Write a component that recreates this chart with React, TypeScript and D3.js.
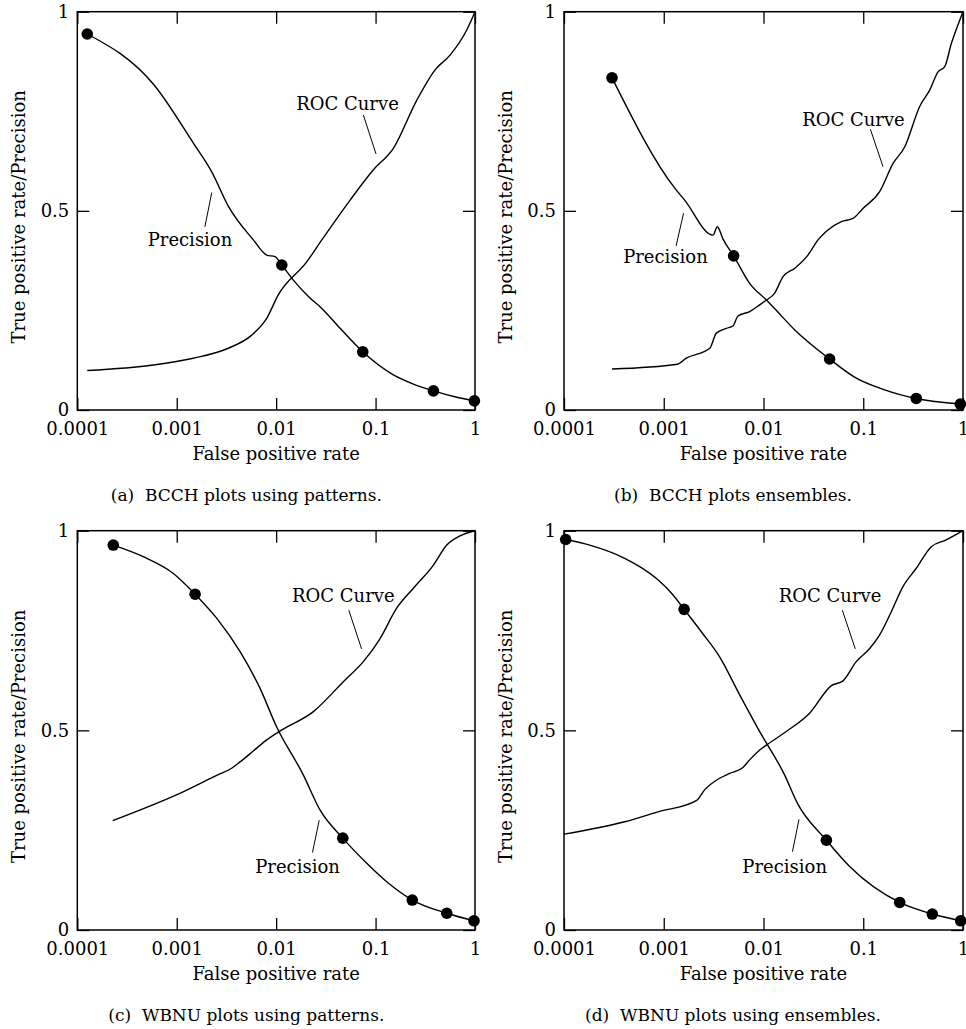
import React, { useEffect, useRef } from "react";
import * as d3 from "d3";

type Pt = [number, number];

// axis ticks
const xTicks = [0.0001, 0.001, 0.01, 0.1, 1];
const xTickLabels = ["0.0001", "0.001", "0.01", "0.1", "1"];
const yTicks = [0, 0.5, 1];
const yTickLabels = ["0", "0.5", "1"];

// (a) BCCH patterns  [false positive rate, value]
const precisionA: Pt[] = [
  [0.000126, 0.944], [0.000592, 0.816], [0.00147, 0.67], [0.00225, 0.598], [0.0033, 0.512],
  [0.0059, 0.427], [0.00803, 0.389], [0.00975, 0.385], [0.0114, 0.364], [0.0149, 0.326],
  [0.0211, 0.285], [0.0288, 0.255], [0.044, 0.205], [0.0743, 0.146], [0.151, 0.088],
  [0.24, 0.065], [0.382, 0.048], [0.656, 0.032], [0.986, 0.023],
];
const rocA: Pt[] = [
  [0.000126, 0.099], [0.000582, 0.113], [0.00147, 0.13], [0.0033, 0.155], [0.00568, 0.188],
  [0.00803, 0.23], [0.0105, 0.289], [0.0203, 0.372], [0.0288, 0.427], [0.0555, 0.527],
  [0.0951, 0.603], [0.151, 0.657], [0.26, 0.778], [0.397, 0.854], [0.561, 0.891],
  [0.826, 0.954], [1, 1],
];
const dotsA: Pt[] = [[0.000126, 0.944], [0.0114, 0.364], [0.0743, 0.146], [0.382, 0.048], [0.986, 0.023]];

// (b) BCCH ensembles
const precisionB: Pt[] = [
  [0.000303, 0.834], [0.00129, 0.557], [0.00162, 0.527], [0.00312, 0.439], [0.00344, 0.46],
  [0.00393, 0.429], [0.00502, 0.387], [0.00726, 0.318], [0.0107, 0.276], [0.0129, 0.255],
  [0.0206, 0.201], [0.046, 0.128], [0.0851, 0.08], [0.158, 0.052], [0.34, 0.029], [0.94, 0.015],
];
const rocB: Pt[] = [
  [0.000303, 0.103], [0.00137, 0.115], [0.00168, 0.13], [0.00289, 0.155], [0.00337, 0.193],
  [0.00424, 0.205], [0.00494, 0.211], [0.00555, 0.236], [0.00726, 0.247], [0.00916, 0.264],
  [0.0107, 0.276], [0.0129, 0.293], [0.0157, 0.335], [0.0206, 0.356], [0.0279, 0.389],
  [0.0352, 0.427], [0.0427, 0.449], [0.0603, 0.473], [0.0789, 0.481], [0.0993, 0.506],
  [0.146, 0.548], [0.199, 0.619], [0.261, 0.661], [0.368, 0.762], [0.463, 0.803],
  [0.562, 0.849], [0.656, 0.862], [0.764, 0.92], [0.891, 0.967], [1, 1],
];
const dotsB: Pt[] = [[0.000303, 0.834], [0.00502, 0.387], [0.046, 0.128], [0.34, 0.029], [0.94, 0.015]];

// (c) WBNU patterns
const precisionC: Pt[] = [
  [0.00023, 0.964], [0.000461, 0.935], [0.000925, 0.893], [0.00153, 0.841], [0.00252, 0.781],
  [0.00434, 0.697], [0.00689, 0.605], [0.0101, 0.509], [0.0188, 0.388], [0.0277, 0.3],
  [0.0468, 0.23], [0.0815, 0.167], [0.135, 0.117], [0.234, 0.075], [0.52, 0.042], [0.977, 0.023],
];
const rocC: Pt[] = [
  [0.000227, 0.274], [0.00116, 0.346], [0.00252, 0.387], [0.00357, 0.405], [0.00434, 0.421],
  [0.006, 0.45], [0.00803, 0.476], [0.0114, 0.501], [0.0237, 0.547], [0.0474, 0.622], [0.0753, 0.672],
  [0.111, 0.73], [0.163, 0.806], [0.24, 0.856], [0.382, 0.914], [0.52, 0.964], [0.708, 0.987], [1, 1],
];
const dotsC: Pt[] = [
  [0.00023, 0.964], [0.00153, 0.841], [0.0468, 0.23], [0.234, 0.075], [0.52, 0.042], [0.977, 0.023],
];

// (d) WBNU ensembles
const precisionD: Pt[] = [
  [0.000104, 0.978], [0.000181, 0.964], [0.000406, 0.931], [0.000574, 0.91], [0.000875, 0.877],
  [0.00124, 0.839], [0.0016, 0.803], [0.00238, 0.747], [0.00363, 0.684], [0.00577, 0.589],
  [0.00916, 0.497], [0.0163, 0.388], [0.0219, 0.317], [0.0427, 0.225], [0.0731, 0.159],
  [0.232, 0.069], [0.492, 0.04], [0.948, 0.023],
];
const rocD: Pt[] = [
  [0.0001, 0.24], [0.000406, 0.271], [0.000875, 0.296], [0.00212, 0.324], [0.00257, 0.351],
  [0.00363, 0.38], [0.00458, 0.392], [0.00622, 0.407], [0.00726, 0.426], [0.00916, 0.451],
  [0.0107, 0.463], [0.0169, 0.497], [0.029, 0.543], [0.0479, 0.612], [0.0627, 0.624],
  [0.0851, 0.672], [0.116, 0.705], [0.146, 0.739], [0.191, 0.797], [0.25, 0.86],
  [0.34, 0.906], [0.481, 0.96], [0.679, 0.977], [1, 1],
];
const dotsD: Pt[] = [
  [0.000104, 0.978], [0.0016, 0.803], [0.0427, 0.225], [0.232, 0.069], [0.492, 0.04], [0.948, 0.023],
];

const captions = [
  "(a)\u00a0 BCCH plots using patterns.",
  "(b)\u00a0 BCCH plots ensembles.",
  "(c)\u00a0 WBNU plots using patterns.",
  "(d)\u00a0 WBNU plots using ensembles.",
];

const W = 966;
const H = 1029;
const FONT = "DejaVu Serif";
const FS = 18;

// panel boxes + annotation anchors (in data coords)
const panels = [
  {
    left: 77.3, right: 475, top: 11.7, bottom: 410,
    precision: precisionA, roc: rocA, dots: dotsA, caption: captions[0],
    rocText: [0.0522, 0.753], rocLine: [[0.0753, 0.741], [0.101, 0.643]],
    precText: [0.00136, 0.412], precLine: [[0.00225, 0.546], [0.00192, 0.46]],
  },
  {
    left: 564, right: 963, top: 11.7, bottom: 410,
    precision: precisionB, roc: rocB, dots: dotsB, caption: captions[1],
    rocText: [0.0798, 0.713], rocLine: [[0.1178, 0.705], [0.1578, 0.611]],
    precText: [0.00104, 0.368], precLine: [[0.00158, 0.494], [0.00133, 0.412]],
  },
  {
    left: 77.3, right: 475, top: 530.7, bottom: 930,
    precision: precisionC, roc: rocC, dots: dotsC, caption: captions[2],
    rocText: [0.0474, 0.821], rocLine: [[0.0538, 0.801], [0.0723, 0.704]],
    precText: [0.0164, 0.144], precLine: [[0.0271, 0.275], [0.0232, 0.194]],
  },
  {
    left: 564, right: 963, top: 530.7, bottom: 930,
    precision: precisionD, roc: rocD, dots: dotsD, caption: captions[3],
    rocText: [0.0465, 0.821], rocLine: [[0.0617, 0.801], [0.0832, 0.704]],
    precText: [0.0163, 0.144], precLine: [[0.0227, 0.277], [0.0195, 0.196]],
  },
];

const App = () => {
  const ref = useRef<SVGSVGElement>(null);

  useEffect(() => {
    const svg = d3.select(ref.current);
    svg.selectAll("*").remove();

    panels.forEach((p) => {
      const x = d3.scaleLog().domain([0.0001, 1]).range([p.left, p.right]);
      const y = d3.scaleLinear().domain([0, 1]).range([p.bottom, p.top]);
      const g = svg.append("g");

      // axes (ticks pointing inward)
      const bottom = g.append("g").attr("transform", `translate(0,${p.bottom})`)
        .call(d3.axisBottom(x).tickValues(xTicks).tickSizeInner(-12).tickSizeOuter(0)
          .tickPadding(12).tickFormat((_d, i) => xTickLabels[i]));
      const top = g.append("g").attr("transform", `translate(0,${p.top})`)
        .call(d3.axisTop(x).tickValues(xTicks).tickSizeInner(-12).tickSizeOuter(0).tickFormat(() => ""));
      const left = g.append("g").attr("transform", `translate(${p.left},0)`)
        .call(d3.axisLeft(y).tickValues(yTicks).tickSizeInner(-12).tickSizeOuter(0)
          .tickPadding(8).tickFormat((_d, i) => yTickLabels[i]));
      const right = g.append("g").attr("transform", `translate(${p.right},0)`)
        .call(d3.axisRight(y).tickValues(yTicks).tickSizeInner(-12).tickSizeOuter(0).tickFormat(() => ""));

      [bottom, top, left, right].forEach((a) => {
        a.select(".domain").remove();
        a.attr("font-family", null).attr("font-size", null);
        a.selectAll("line").attr("stroke", "#000").attr("stroke-width", 1.3);
        a.selectAll("text").attr("fill", "#000");
      });

      g.append("rect")
        .attr("x", p.left).attr("y", p.top)
        .attr("width", p.right - p.left).attr("height", p.bottom - p.top)
        .attr("fill", "none").attr("stroke", "#000").attr("stroke-width", 1.5);

      // axis titles + caption
      g.append("text")
        .attr("x", (p.left + p.right) / 2).attr("y", p.bottom + 50)
        .attr("text-anchor", "middle").text("False positive rate");
      g.append("text")
        .attr("transform", `translate(${p.left - 52},${(p.top + p.bottom) / 2 + 6}) rotate(-90)`)
        .attr("text-anchor", "middle").text("True positive rate/Precision");
      g.append("text")
        .attr("x", p.left + 169).attr("y", p.bottom + 91)
        .attr("text-anchor", "middle").attr("font-size", FS - 1).text(p.caption);

      // curves
      const line = d3.line<Pt>().x((d) => x(d[0])).y((d) => y(d[1])).curve(d3.curveMonotoneX);
      [p.roc, p.precision].forEach((s) => {
        g.append("path").attr("d", line(s)).attr("fill", "none")
          .attr("stroke", "#000").attr("stroke-width", 1.4);
      });
      g.selectAll(null).data(p.dots).join("circle")
        .attr("cx", (d) => x(d[0])).attr("cy", (d) => y(d[1])).attr("r", 5.8).attr("fill", "#000");

      // annotations
      const ann = (t: number[], l: number[][], label: string) => {
        g.append("text").attr("x", x(t[0])).attr("y", y(t[1]))
          .attr("text-anchor", "middle").text(label);
        g.append("line")
          .attr("x1", x(l[0][0])).attr("y1", y(l[0][1]))
          .attr("x2", x(l[1][0])).attr("y2", y(l[1][1]))
          .attr("stroke", "#000").attr("stroke-width", 1);
      };
      ann(p.rocText, p.rocLine, "ROC Curve");
      ann(p.precText, p.precLine, "Precision");
    });
  }, []);

  return (
    <svg ref={ref} width={W} height={H}
      style={{ position: "absolute", left: 0, top: 0, background: "#fff",
        fontFamily: FONT, fontSize: `${FS}px` }} />
  );
};

export default App;
